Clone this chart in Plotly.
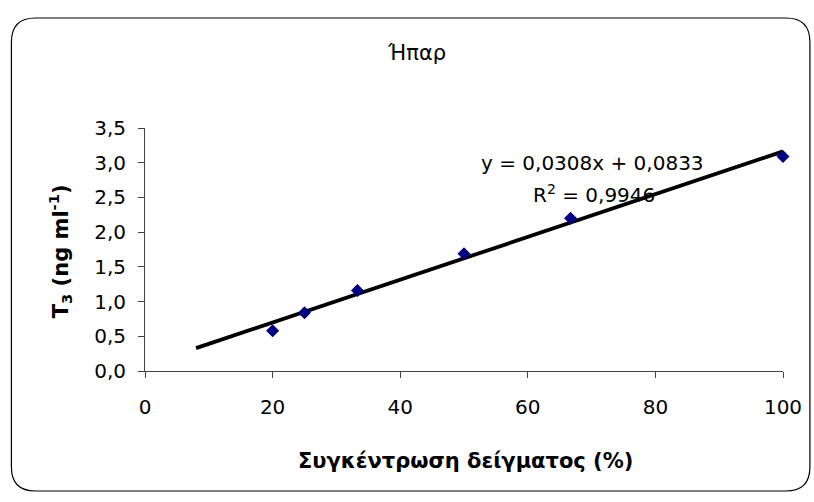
import plotly.graph_objects as go

# Data
conc = [20, 25, 33.3, 50, 66.7, 100]
t3 = [0.58, 0.84, 1.16, 1.69, 2.20, 3.09]
slope = 0.0308
intercept = 0.0833
trend_x = [8, 100]
trend_y = [slope * v + intercept for v in trend_x]
x_ticks = [0, 20, 40, 60, 80, 100]
y_ticks = [0, 0.5, 1.0, 1.5, 2.0, 2.5, 3.0, 3.5]

W, H = 814, 502
ML, MR, MT, MB = 145, 29, 128, 131
PW, PH = W - ML - MR, H - MT - MB
FONT = "DejaVu Sans"


def px(x):
    return (x - ML) / PW


def py(y):
    return (H - MB - y) / PH


fig = go.Figure()
fig.add_trace(go.Scatter(x=trend_x, y=trend_y, mode="lines",
                         line=dict(color="black", width=3.8),
                         showlegend=False, hoverinfo="skip"))
fig.add_trace(go.Scatter(x=conc, y=t3, mode="markers",
                         marker=dict(symbol="diamond", size=10, color="#000080"),
                         showlegend=False, cliponaxis=False))

# rounded border
x0, y0, x1, y1, r = 11, 18, 812, 491, 24
path = (f"M {px(x0+r)},{py(y0)} L {px(x1-r)},{py(y0)} "
        f"Q {px(x1)},{py(y0)} {px(x1)},{py(y0+r)} "
        f"L {px(x1)},{py(y1-r)} Q {px(x1)},{py(y1)} {px(x1-r)},{py(y1)} "
        f"L {px(x0+r)},{py(y1)} Q {px(x0)},{py(y1)} {px(x0)},{py(y1-r)} "
        f"L {px(x0)},{py(y0+r)} Q {px(x0)},{py(y0)} {px(x0+r)},{py(y0)} Z")
fig.add_shape(type="path", path=path, xref="paper", yref="paper",
              line=dict(color="black", width=1.2), layer="below")


def label(text, x, y, size, angle=0):
    fig.add_annotation(text=text, x=px(x), y=py(y), xref="paper", yref="paper",
                       xanchor="center", yanchor="middle", showarrow=False,
                       textangle=angle,
                       font=dict(family=FONT, size=size, color="black"))


label("y = 0,0308x + 0,0833", 594, 163, 20)
label("R<sup>2</sup> = 0,9946", 595, 194, 20)
label("Ήπαρ", 417, 53, 21)
label("<b>Συγκέντρωση δείγματος (%)</b>", 467, 461, 21)
label("<b>T<sub>3</sub> (ng ml<sup>-1</sup>)</b>", 60, 251, 21, -90)

fig.update_xaxes(range=[0, 100], tickvals=x_ticks, showgrid=False, zeroline=False,
                 showline=True, linecolor="#444", linewidth=1,
                 ticks="outside", ticklen=6, tickcolor="#444",
                 ticklabelstandoff=12,
                 tickfont=dict(family=FONT, size=20, color="black"))
fig.update_yaxes(range=[0, 3.5], tickvals=y_ticks, tickformat=".1f",
                 showgrid=False, zeroline=False,
                 showline=True, linecolor="#444", linewidth=1,
                 ticks="outside", ticklen=6, tickcolor="#444",
                 ticklabelstandoff=8,
                 tickfont=dict(family=FONT, size=20, color="black"))
fig.update_layout(width=W, height=H, margin=dict(l=ML, r=MR, t=MT, b=MB),
                  paper_bgcolor="white", plot_bgcolor="white",
                  separators=",.", showlegend=False)
fig.write_html("out.html")
